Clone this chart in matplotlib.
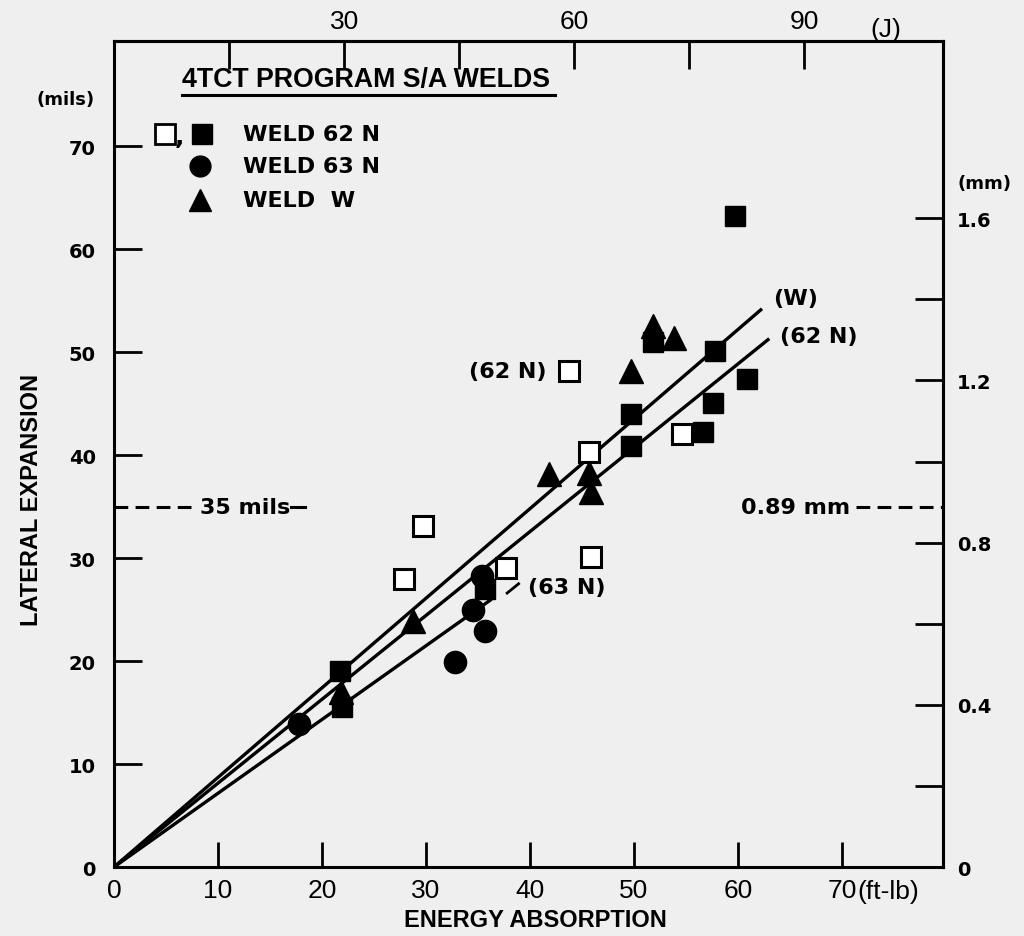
import matplotlib
matplotlib.use('Agg')
import matplotlib.pyplot as plt
import matplotlib.transforms as mtransforms

# weld 62N open squares (ft-lb, mils)
open62_x = [43.7, 45.7, 54.6, 29.7, 45.9, 37.7, 27.9]
open62_y = [48.2, 40.3, 42.0, 33.1, 30.1, 29.0, 28.0]
# weld 62N filled squares
fill62_x = [59.7, 51.8, 57.8, 60.9, 57.6, 49.7, 56.6, 49.7, 35.7, 21.7, 21.9]
fill62_y = [63.2, 51.0, 50.1, 47.4, 45.1, 44.0, 42.2, 40.9, 27.0, 19.0, 15.5]
# weld 63N circles
w63_x = [35.4, 34.5, 35.7, 32.8, 17.8]
w63_y = [28.3, 25.0, 22.9, 19.9, 13.9]
# weld W triangles
wW_x = [51.8, 53.8, 49.7, 41.8, 45.7, 45.9, 28.7, 21.8]
wW_y = [52.5, 51.4, 48.2, 38.2, 38.3, 36.4, 23.9, 17.0]

# fitted lines: end points from origin
line_W = ([0, 62.3], [0, 54.2])
line_62 = ([0, 63.0], [0, 51.3])
line_63 = ([0, 36.3], [0, 26.0])

bottom_ticks = [0, 10, 20, 30, 40, 50, 60, 70]
left_ticks = [0, 10, 20, 30, 40, 50, 60, 70]
top_ticks_J = [15, 30, 45, 60, 75, 90]
top_labels_J = ['', '30', '', '60', '', '90']
right_ticks_mm = [0, 0.2, 0.4, 0.6, 0.8, 1.0, 1.2, 1.4, 1.6]
right_labels_mm = ['0', '', '0.4', '', '0.8', '', '1.2', '', '1.6']

NARROW = ['Liberation Sans Narrow', 'Liberation Sans', 'DejaVu Sans']
WIDE = ['DejaVu Sans']
bg = '#efefef'

fig = plt.figure(figsize=(10.24, 9.37), dpi=100, facecolor=bg)
ax = fig.add_axes([0.1113, 0.0736, 0.8096, 0.8816], facecolor=bg)
ax.set_xlim(0, 79.7)
ax.set_ylim(0, 80.2)
for s in ax.spines.values():
    s.set_linewidth(2.2)

ax.plot(*line_W, color='black', lw=2.4, solid_capstyle='butt')
ax.plot(*line_62, color='black', lw=2.4, solid_capstyle='butt')
ax.plot(*line_63, color='black', lw=2.4, solid_capstyle='butt')

ax.plot(open62_x, open62_y, 's', ms=14, mfc='white', mec='black', mew=2.2, ls='none')
ax.plot(fill62_x, fill62_y, 's', ms=15, color='black', ls='none')
ax.plot(w63_x, w63_y, 'o', ms=16, color='black', ls='none')
ax.plot(wW_x, wW_y, '^', ms=17, color='black', ls='none')

# ticks
ax.set_xticks(bottom_ticks)
ax.set_xticklabels([str(t) for t in bottom_ticks], family=NARROW, fontsize=19)
ax.set_yticks(left_ticks)
ax.set_yticklabels([str(t) for t in left_ticks], family=WIDE, fontsize=14, weight='bold')
ax.tick_params(axis='x', direction='in', length=18, width=2, pad=8)
ax.tick_params(axis='y', direction='in', length=20, width=2, pad=13)

top = ax.secondary_xaxis('top', functions=(lambda f: f * 1.3558, lambda j: j / 1.3558))
top.set_xticks(top_ticks_J)
top.set_xticklabels(top_labels_J, family=NARROW, fontsize=19)
top.tick_params(direction='in', length=20, width=2, pad=6)
top.spines['top'].set_linewidth(2.2)

right = ax.secondary_yaxis('right', functions=(lambda m: m * 0.0254, lambda mm: mm / 0.0254))
right.set_yticks(right_ticks_mm)
right.set_yticklabels(right_labels_mm, family=WIDE, fontsize=14, weight='bold')
right.tick_params(direction='in', length=20, width=2, pad=10)
right.spines['right'].set_linewidth(2.2)

ax.text(72.7, 1.0, '(J)', transform=mtransforms.blended_transform_factory(ax.transData, ax.transAxes),
        family=NARROW, fontsize=19, va='bottom', ha='left')
ax.text(71.5, -0.014, '(ft-lb)', transform=mtransforms.blended_transform_factory(ax.transData, ax.transAxes),
        family=NARROW, fontsize=19, va='top', ha='left')
ax.text(-0.058, 74.6, '(mils)', transform=mtransforms.blended_transform_factory(ax.transAxes, ax.transData),
        family=WIDE, fontsize=13, weight='bold', va='center', ha='center')
ax.text(1.017, 66.4, '(mm)', transform=mtransforms.blended_transform_factory(ax.transAxes, ax.transData),
        family=WIDE, fontsize=13, weight='bold', va='center', ha='left')

fig.text(0.523, 0.018, 'ENERGY ABSORPTION', family=NARROW, fontsize=17, weight='bold',
         ha='center', va='center')
fig.text(0.031, 0.466, 'LATERAL EXPANSION', family=NARROW, fontsize=17, weight='bold', rotation=90,
         ha='center', va='center')

# title and legend
ax.text(0.082, 0.954, '4TCT PROGRAM S/A WELDS', transform=ax.transAxes, family=NARROW,
        fontsize=19.3, weight='bold', va='center', ha='left')
ax.plot([0.082, 0.532], [0.934, 0.934], transform=ax.transAxes, color='black', lw=2.2)
ax.plot([0.0615], [0.887], 's', ms=14, mfc='white', mec='black', mew=2, transform=ax.transAxes)
ax.text(0.079, 0.885, ',', transform=ax.transAxes, fontsize=18, va='center', ha='center', weight='bold')
ax.plot([0.1062], [0.887], 's', ms=14, color='black', transform=ax.transAxes)
ax.plot([0.1037], [0.849], 'o', ms=15, color='black', transform=ax.transAxes)
ax.plot([0.1037], [0.808], '^', ms=16, color='black', transform=ax.transAxes)
for yy, lab in zip([0.887, 0.849, 0.808], ['WELD 62 N', 'WELD 63 N', 'WELD  W']):
    ax.text(0.1556, yy, lab, transform=ax.transAxes, family=WIDE, fontsize=16, weight='bold',
            va='center', ha='left')

# annotations
ax.text(37.9, 48.2, '(62 N)', family=WIDE, fontsize=16, weight='bold', va='center', ha='center')
ax.text(39.8, 27.2, '(63 N)', family=WIDE, fontsize=16, weight='bold', va='center', ha='left')
ax.plot([37.8, 38.9], [26.6, 27.5], color='black', lw=2)
ax.text(63.4, 55.2, '(W)', family=WIDE, fontsize=16, weight='bold', va='center', ha='left')
ax.text(64.0, 51.6, '(62 N)', family=WIDE, fontsize=16, weight='bold', va='center', ha='left')

ax.plot([0, 8.0], [35, 35], color='black', lw=2.2, dashes=(4.5, 2.4))
ax.text(8.3, 35, '35 mils', family=WIDE, fontsize=16, weight='bold', va='center', ha='left')
ax.plot([17.0, 18.4], [35, 35], color='black', lw=2.2)
ax.text(70.8, 35, '0.89 mm', family=WIDE, fontsize=16, weight='bold', va='center', ha='right')
ax.plot([71.3, 79.7], [35, 35], color='black', lw=2.2, dashes=(4.5, 2.4))

fig.savefig('out.png', dpi=100, facecolor=bg)
